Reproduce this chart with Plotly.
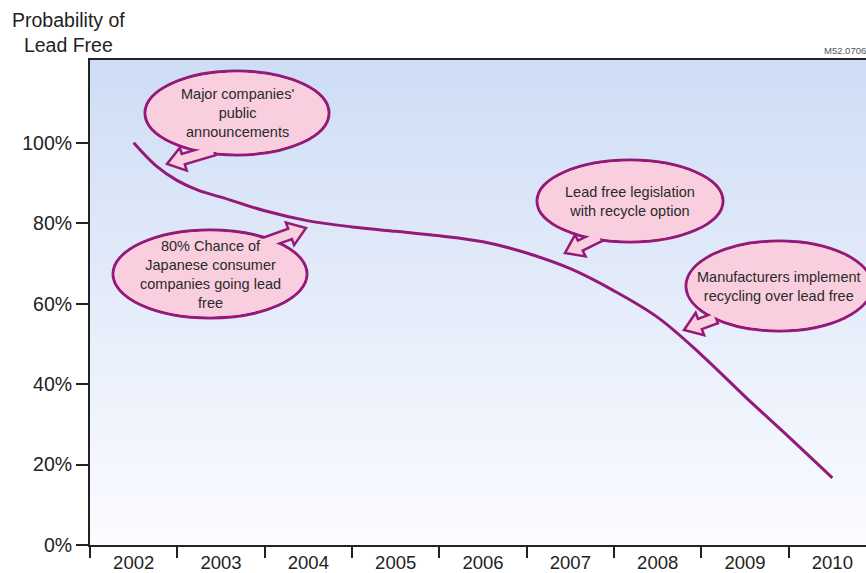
import plotly.graph_objects as go

# ---------------- data ----------------
years = [2002, 2002.25, 2002.5, 2002.75, 2003, 2003.5, 2004, 2004.5, 2005, 2005.5,
         2006, 2006.5, 2007, 2007.5, 2008, 2008.5, 2009, 2009.5, 2010]
prob_lead_free = [100, 94.4, 90.6, 88.1, 86.5, 83.1, 80.6, 79.1, 78.0, 76.9,
                  75.4, 72.6, 68.7, 63.2, 56.6, 47.3, 36.9, 26.9, 16.7]

tick_years = [2002, 2003, 2004, 2005, 2006, 2007, 2008, 2009, 2010]
tick_year_labels = [str(y) for y in tick_years]
prob_ticks = [0, 20, 40, 60, 80, 100]
prob_tick_labels = [f"{v}%" for v in prob_ticks]

callout_texts = [
    "Major companies'<br>public<br>announcements",
    "80% Chance of<br>Japanese consumer<br>companies going lead<br>free",
    "Lead free legislation<br>with recycle option",
    "Manufacturers implement<br>recycling over lead free",
]

# ---------------- layout geometry ----------------
W, H = 866, 573
ML, MR, MT, MB = 90, 0, 60, 28
PW, PH = W - ML - MR, H - MT - MB
X_RANGE = [2001.5, 2010.385]
Y_RANGE = [0, 120.6]

FONT = "Liberation Sans, Arial, sans-serif"
MAGENTA = "#951a78"
PINK = "#f9cfdf"
AXIS = "#222222"


def dx(px):
    return X_RANGE[0] + (px - ML) / PW * (X_RANGE[1] - X_RANGE[0])


def dy(py):
    return Y_RANGE[0] + (MT + PH - py) / PH * (Y_RANGE[1] - Y_RANGE[0])


# callout placement (pixel layout): center, radii, tail base, tail tip
callout_geom = [
    dict(c=(237, 113), r=(92, 42), base=(214, 150), tip=(167, 164)),
    dict(c=(210, 274), r=(97, 44), base=(262, 244), tip=(306, 228)),
    dict(c=(630, 201), r=(93, 41), base=(600, 236), tip=(565, 253)),
    dict(c=(779, 286), r=(93, 45), base=(716, 318), tip=(684, 330)),
]


def arrow_path(base, tip, sw=5.5, hw=12, hl=17):
    bx, by = base
    tx, ty = tip
    L = ((tx - bx) ** 2 + (ty - by) ** 2) ** 0.5
    ux, uy = (tx - bx) / L, (ty - by) / L
    nx, ny = -uy, ux
    hx, hy = tx - ux * hl, ty - uy * hl
    pts = [
        (bx + nx * sw, by + ny * sw),
        (hx + nx * sw, hy + ny * sw),
        (hx + nx * hw, hy + ny * hw),
        (tx, ty),
        (hx - nx * hw, hy - ny * hw),
        (hx - nx * sw, hy - ny * sw),
        (bx - nx * sw, by - ny * sw),
    ]
    return "M " + " L ".join(f"{dx(x):.5f},{dy(y):.5f}" for x, y in pts) + " Z"


shapes = []
annotations = []
for text, g in zip(callout_texts, callout_geom):
    cx, cy = g["c"]
    rx, ry = g["r"]
    shapes.append(dict(type="circle", xref="x", yref="y", layer="above",
                       x0=dx(cx - rx), x1=dx(cx + rx), y0=dy(cy + ry), y1=dy(cy - ry),
                       fillcolor=PINK, line=dict(color=MAGENTA, width=3)))
    shapes.append(dict(type="path", xref="x", yref="y", layer="above",
                       path=arrow_path(g["base"], g["tip"]),
                       fillcolor=PINK, line=dict(color=MAGENTA, width=2.5)))
    shapes.append(dict(type="circle", xref="x", yref="y", layer="above",
                       x0=dx(cx - rx + 1.6), x1=dx(cx + rx - 1.6),
                       y0=dy(cy + ry - 1.6), y1=dy(cy - ry + 1.6),
                       fillcolor=PINK, line=dict(width=0)))
    annotations.append(dict(text=text, xref="x", yref="y", x=dx(cx), y=dy(cy),
                            showarrow=False, align="center",
                            font=dict(family=FONT, size=14.5, color="#2a2a2a")))

annotations.append(dict(text="Probability of<br>Lead Free", xref="paper", yref="paper",
                        x=(68 - ML) / PW, y=(MT + PH - 33) / PH,
                        xanchor="center", yanchor="middle", align="center",
                        showarrow=False, font=dict(family=FONT, size=19.5, color="#222")))
annotations.append(dict(text="M52.0706", xref="paper", yref="paper",
                        x=(822 - ML) / PW, y=(MT + PH - 58) / PH,
                        xanchor="left", yanchor="bottom", showarrow=False,
                        font=dict(family=FONT, size=9.5, color="#555")))

fig = go.Figure()

# background gradient
fig.add_trace(go.Heatmap(
    x=X_RANGE, y=[Y_RANGE[0], 60, Y_RANGE[1]],
    z=[[0, 0], [0.5, 0.5], [1, 1]], zmin=0, zmax=1, zsmooth="best",
    colorscale=[[0, "rgb(251,252,255)"], [0.5, "rgb(229,236,250)"], [1, "rgb(206,221,245)"]],
    showscale=False, hoverinfo="skip"))

fig.add_trace(go.Scatter(
    x=years, y=prob_lead_free, xaxis="x2", yaxis="y", mode="lines",
    line=dict(color=MAGENTA, width=3, shape="spline", smoothing=1.0),
    showlegend=False, hoverinfo="skip"))

fig.update_layout(
    template="none",
    width=W, height=H,
    margin=dict(l=ML, r=MR, t=MT, b=MB, pad=0, autoexpand=False),
    paper_bgcolor="white", plot_bgcolor="white",
    showlegend=False,
    font=dict(family=FONT, size=19.5, color="#222"),
    xaxis=dict(range=X_RANGE, tickmode="array", tickvals=tick_years,
               ticktext=tick_year_labels, ticks="", ticklabelstandoff=0,
               showline=True, linecolor=AXIS, automargin=False,
               linewidth=2, mirror=True, showgrid=False, zeroline=False,
               tickfont=dict(family=FONT, size=18.5, color="#222")),
    xaxis2=dict(range=X_RANGE, overlaying="x", anchor="y", side="bottom",
                tickmode="array", tickvals=[y - 0.5 for y in tick_years],
                ticks="outside", ticklen=12, tickwidth=2, tickcolor=AXIS,
                showticklabels=False, showline=False, showgrid=False,
                zeroline=False, automargin=False),
    yaxis=dict(range=Y_RANGE, tickmode="array", tickvals=prob_ticks,
               ticktext=prob_tick_labels, ticks="outside", ticklen=12,
               tickwidth=2, tickcolor=AXIS, showline=True, linecolor=AXIS,
               linewidth=2, showgrid=False, zeroline=False, automargin=False,
               tickfont=dict(family=FONT, size=19.5, color="#222")),
    shapes=shapes,
    annotations=annotations,
)

fig.write_html("out.html")
